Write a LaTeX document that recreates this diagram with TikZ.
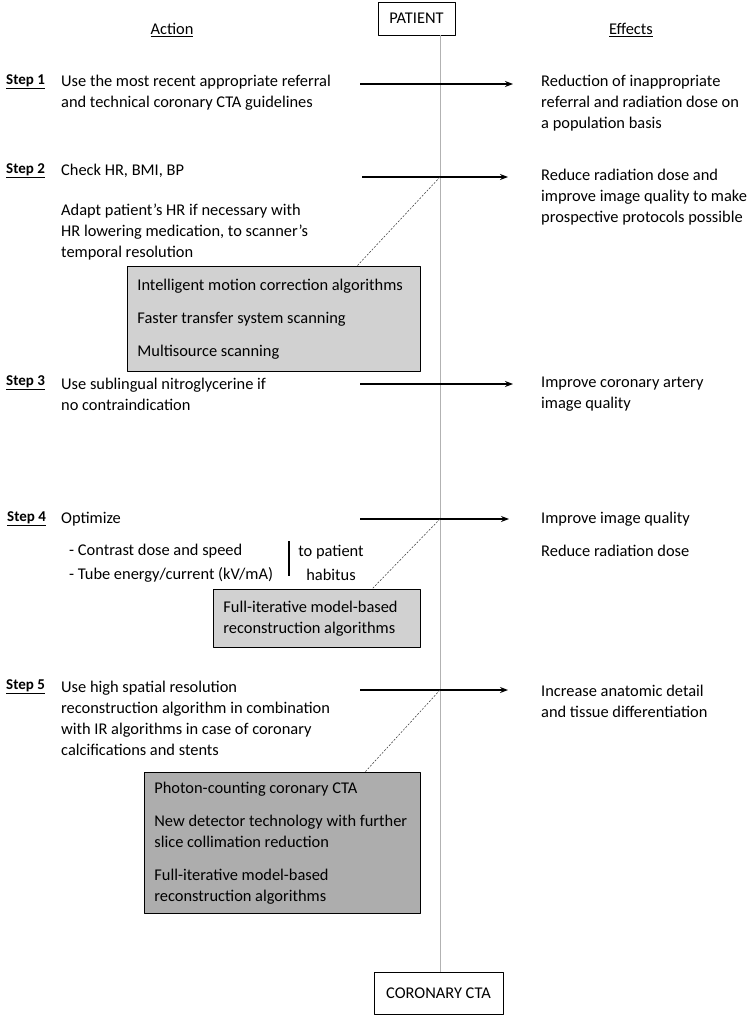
\documentclass[tikz,border=0pt]{standalone}
\usepackage{fontspec}
\setmainfont{Carlito}
\usetikzlibrary{arrows.meta}
\begin{document}
\begin{tikzpicture}[x=1pt, y=-1pt, font=\fontsize{16.4}{21}\selectfont, line join=round, >={Stealth[length=8pt,width=6pt]},
	txt/.style={anchor=west, inner sep=0pt, align=left},
	steplbl/.style={anchor=west, inner sep=0pt, font=\fontsize{15}{21}\selectfont\bfseries},
	endbox/.style={draw, line width=0.8pt, inner sep=0pt, minimum height=33pt},
	panel/.style={draw, line width=0.8pt, anchor=north west, inner xsep=10pt, inner ysep=0pt, align=flush left},
	effect/.style={->, line width=1.5pt},
	hint/.style={dash pattern=on 2pt off 1.5pt, line width=0.5pt, black!80}]
				\useasboundingbox (0,0) rectangle (747,1016);
				\node[endbox, minimum width=77pt] (patient) at (416.5,18.5) {PATIENT};
				\node[endbox, minimum width=129pt, minimum height=42pt] (cta) at (438.5,993) {CORONARY CTA};
				\draw[black!30, line width=1pt] (patient.south -| 440,0) -- (cta.north -| 440,0);
				\node[inner sep=0pt] (action) at (172,30) {\underline{Action}};
				\node[inner sep=0pt] (effects) at (631,30) {\underline{Effects}};
				\node[steplbl] (s1) at (6,82) {\underline{Step 1}};
				\node[steplbl] (s2) at (6,171) {\underline{Step 2}};
				\node[steplbl] (s3) at (6,383) {\underline{Step 3}};
				\node[steplbl] (s4) at (7,519) {\underline{Step 4}};
				\node[steplbl] (s5) at (6,687) {\underline{Step 5}};
				\node[txt] (act1) at (61,92.5) {Use the most recent appropriate referral\\and technical coronary CTA guidelines};
				\node[txt] (act2a) at (61,171) {Check HR, BMI, BP};
				\node[txt] (act2b) at (61,232) {Adapt patient’s HR if necessary with\\HR lowering medication, to scanner’s\\temporal resolution};
				\node[txt] (act3) at (61,394) {Use sublingual nitroglycerine if\\no contraindication};
				\node[txt] (act4) at (61,519) {Optimize};
				\node[txt, font=\fontsize{16.4}{24}\selectfont] (act4b) at (69,563) {- Contrast dose and speed\\- Tube energy/current (kV/mA)};
				\node[inner sep=0pt, align=center, font=\fontsize{16.4}{24}\selectfont] (habitus) at (331,563) {to patient\\habitus};
				\draw[line width=1.8pt] (289,541) -- (289,576);
				\node[txt] (act5) at (61,718.5) {Use high spatial resolution\\reconstruction algorithm in combination\\with IR algorithms in case of coronary\\calcifications and stents};
				\node[txt] (eff1) at (541,103) {Reduction of inappropriate\\referral and radiation dose on\\a population basis};
				\node[txt] (eff2) at (541,197) {Reduce radiation dose and\\improve image quality to make\\prospective protocols possible};
				\node[txt] (eff3) at (541,394) {Improve coronary artery\\image quality};
				\node[txt] (eff4a) at (541,519) {Improve image quality};
				\node[txt] (eff4b) at (541,551) {Reduce radiation dose};
				\node[txt] (eff5) at (541,701.5) {Increase anatomic detail\\and tissue differentiation};
				\node[panel, fill=black!18, text width=273pt, minimum height=105pt] (box1) at (127,266) {Intelligent motion correction algorithms\\[12pt]Faster transfer system scanning\\[12pt]Multisource scanning};
				\node[panel, fill=black!18, text width=187pt, minimum height=58pt] (box2) at (213,589) {Full-iterative model-based\\reconstruction algorithms};
				\node[panel, fill=black!32, text width=256pt, minimum height=141pt] (box3) at (144,772) {Photon-counting coronary CTA\\[12pt]New detector technology with further\\slice collimation reduction\\[12pt]Full-iterative model-based\\reconstruction algorithms};
				\coordinate (a1) at (360,84); \coordinate (b1) at (513,84);
				\coordinate (a2) at (362,177); \coordinate (b2) at (508,177); \coordinate (h2) at (440,177);
				\coordinate (a3) at (360,384); \coordinate (b3) at (513,384);
				\coordinate (a4) at (360,519); \coordinate (b4) at (509,519); \coordinate (h4) at (440,519);
				\coordinate (a5) at (360,690); \coordinate (b5) at (508,690); \coordinate (h5) at (440,690);
				\draw[effect] (a1)--(b1);
				\draw[effect] (a2)--(b2);
				\draw[effect] (a3)--(b3);
				\draw[effect] (a4)--(b4);
				\draw[effect] (a5)--(b5);
				\draw[hint] (h2)--(box1.north west -| 357,0) (h4)--(box2.north west -| 372,0) (h5)--(box3.north west -| 365,0);
		\end{tikzpicture}
\end{document}
